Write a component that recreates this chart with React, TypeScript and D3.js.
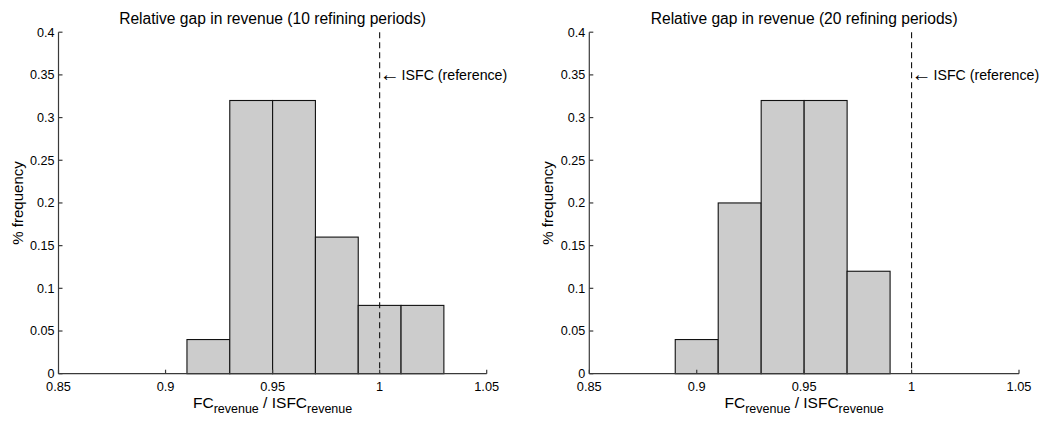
import React from "react";
import * as d3 from "d3";

const binWidth = 0.02;
const centers10 = [0.92, 0.94, 0.96, 0.98, 1.0, 1.02];
const freq10 = [0.04, 0.32, 0.32, 0.16, 0.08, 0.08];
const centers20 = [0.9, 0.92, 0.94, 0.96, 0.98];
const freq20 = [0.04, 0.2, 0.32, 0.32, 0.12];
const xTicks = [0.85, 0.9, 0.95, 1.0, 1.05];
const xTickLabels = ["0.85", "0.9", "0.95", "1", "1.05"];
const yTicks = [0, 0.05, 0.1, 0.15, 0.2, 0.25, 0.3, 0.35, 0.4];
const yTickLabels = ["0", "0.05", "0.1", "0.15", "0.2", "0.25", "0.3", "0.35", "0.4"];
const titles = [
  "Relative gap in revenue (10 refining periods)",
  "Relative gap in revenue (20 refining periods)",
];
const refValue = 1.0;
const refArrow = "\u2190";
const refLabel = " ISFC (reference)";

const FONT = "'Liberation Sans', Arial, Helvetica, sans-serif";
const AX = "#3a3a3a";

function Panel({ x0, x1, centers, freq, title }: { x0: number; x1: number; centers: number[]; freq: number[]; title: string }) {
  const y0 = 373.7, y1 = 32.2;
  const x = d3.scaleLinear().domain([0.85, 1.05]).range([x0, x1]);
  const y = d3.scaleLinear().domain([0, 0.4]).range([y0, y1]);
  const cx = (x0 + x1) / 2;
  return (
    <g fontFamily={FONT} fill="#000">
      <text x={cx} y={24} textAnchor="middle" fontSize={15.6}>{title}</text>
      {centers.map((c, i) => (
        <rect key={i} x={x(c - binWidth / 2)} y={y(freq[i])} width={x(c + binWidth / 2) - x(c - binWidth / 2)} height={y(0) - y(freq[i])} fill="#cccccc" stroke="#111" strokeWidth={1.1} />
      ))}
      <line x1={x(refValue)} x2={x(refValue)} y1={y(0.4)} y2={y(0)} stroke="#111" strokeWidth={1.1} strokeDasharray="6,4" />
      <text x={x(refValue)} y={y(0.35) + 5} fontSize={14.2}>
        <tspan fontSize={20} dy={1}>{refArrow}</tspan>
        <tspan dy={-1} dx={-2}>{refLabel}</tspan>
      </text>
      <line x1={x0} x2={x1} y1={y0} y2={y0} stroke={AX} strokeWidth={1.2} />
      <line x1={x0} x2={x0} y1={y0} y2={y1} stroke={AX} strokeWidth={1.2} />
      {xTicks.map((t, i) => (
        <g key={i}>
          <line x1={x(t)} x2={x(t)} y1={y0} y2={y0 - 4} stroke={AX} strokeWidth={1.2} />
          <text x={x(t)} y={y0 + 17} textAnchor="middle" fontSize={12.8}>{xTickLabels[i]}</text>
        </g>
      ))}
      {yTicks.map((t, i) => (
        <g key={i}>
          <line x1={x0} x2={x0 + 4} y1={y(t)} y2={y(t)} stroke={AX} strokeWidth={1.2} />
          <text x={x0 - 4} y={y(t)} dy="0.35em" textAnchor="end" fontSize={12.6}>{yTickLabels[i]}</text>
        </g>
      ))}
      <text x={cx} y={408} textAnchor="middle" fontSize={15.5}>
        FC<tspan fontSize={12.5} dy={5}>revenue</tspan><tspan dy={-5}>{" / ISFC"}</tspan><tspan fontSize={12.5} dy={5}>revenue</tspan>
      </text>
      <text transform={`translate(${x0 - 36},${(y0 + y1) / 2}) rotate(-90)`} textAnchor="middle" fontSize={15}>% frequency</text>
    </g>
  );
}

export default function App() {
  return (
    <svg width={1060} height={423} style={{ position: "absolute", left: 0, top: 0, background: "#fff" }}>
      <rect width={1060} height={423} fill="#fff" />
      <Panel x0={58.5} x1={486.7} centers={centers10} freq={freq10} title={titles[0]} />
      <Panel x0={589.3} x1={1019} centers={centers20} freq={freq20} title={titles[1]} />
    </svg>
  );
}
